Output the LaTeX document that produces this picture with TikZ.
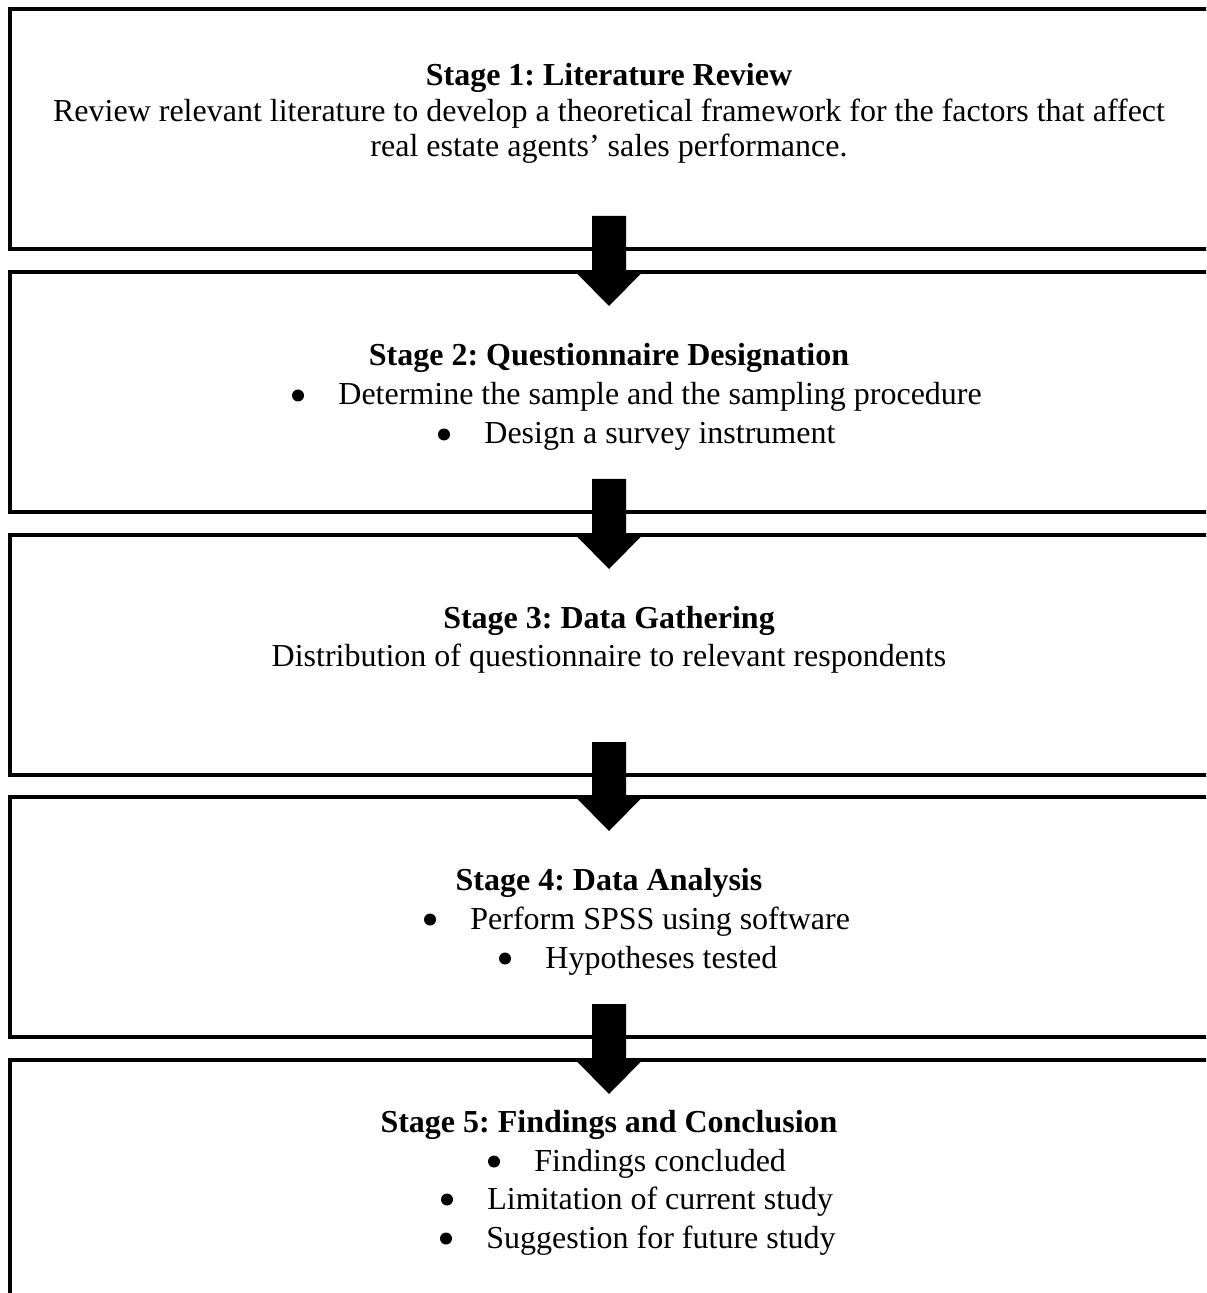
\documentclass[tikz,border=0pt]{standalone}
\usepackage{fontspec}
\setmainfont{Liberation Serif}
\usetikzlibrary{calc}
\begin{document}
\frenchspacing
\begin{tikzpicture}[x=0.5pt,y=-0.5pt,
  stagebox/.style={draw=black, line width=1.8pt, rectangle, minimum width=602pt,
    minimum height=120pt, inner sep=0pt, outer sep=0pt, anchor=north west, fill=white},
  linetxt/.style={anchor=base, inner sep=0pt, text height=11pt, text depth=3pt,
    font=\fontsize{16}{19}\selectfont},
  bultxt/.style={linetxt, anchor=base west},
  ttl/.style={anchor=base, inner sep=0pt, text height=11pt, text depth=3pt,
    font=\fontsize{16}{19}\selectfont\bfseries},
  bulletdot/.style={fill=black},
  blockarrow/.style={fill=black}]
\useasboundingbox (0,0) rectangle (1206,1293);
\clip (0,0) rectangle (1206,1293);
\fill[white] (0,0) rectangle (1206,1293);

% boxes
\node[stagebox] (b1) at (10,9) {};
\node[stagebox] (b2) at (10,272) {};
\node[stagebox] (b3) at (10,535) {};
\node[stagebox] (b4) at (10,797) {};
\node[stagebox] (b5) at (10,1060) {};

% stage 1
\node[ttl] (t1) at (609,86) {Stage 1: Literature Review};
\node[linetxt] (t1a) at (609,122) {Review relevant literature to develop a theoretical framework for the factors that affect};
\node[linetxt] (t1b) at (609,157) {real estate agents’ sales performance.};

% stage 2
\node[ttl] (t2) at (609,366) {Stage 2: Questionnaire Designation};
\node[bultxt] (t2a) at (338,405) {Determine the sample and the sampling procedure};
\node[bultxt] (t2b) at (484,444) {Design a survey instrument};

% stage 3
\node[ttl] (t3) at (609,628) {Stage 3: Data Gathering};
\node[linetxt] (t3a) at (609,666) {Distribution of questionnaire to relevant respondents};

% stage 4
\node[ttl] (t4) at (609,890) {Stage 4: Data Analysis};
\node[bultxt] (t4a) at (470,929) {Perform SPSS using software};
\node[bultxt] (t4b) at (545,968) {Hypotheses tested};

% stage 5
\node[ttl] (t5) at (609,1132) {Stage 5: Findings and Conclusion};
\node[bultxt] (t5a) at (534,1171) {Findings concluded};
\node[bultxt] (t5b) at (487,1209) {Limitation of current study};
\node[bultxt] (t5c) at (486,1248) {Suggestion for future study};

% bullets
\foreach \t in {t2a,t2b,t4a,t4b,t5a,t5b,t5c}{
  \fill[bulletdot] ($(\t.base west)+(-40,-9.5)$) circle[radius=3pt];
}

% block arrows (box centre is at x=612, arrows sit at x=609)
\foreach \a/\b in {b1/b2, b2/b3, b3/b4, b4/b5}{
  \fill[blockarrow] ($(\a.south)+(-20,-33)$) -- ($(\a.south)+(14,-33)$)
    -- ($(\b.north)+(14,0)$) -- ($(\b.north)+(30.5,0)$) -- ($(\b.north)+(-3,34)$)
    -- ($(\b.north)+(-36.5,0)$) -- ($(\b.north)+(-20,0)$) -- cycle;
}
\end{tikzpicture}
\end{document}
